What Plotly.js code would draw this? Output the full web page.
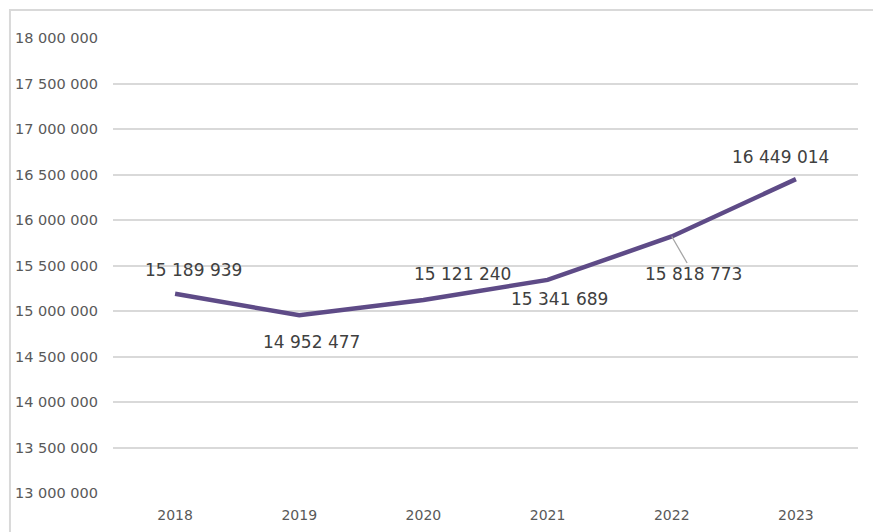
<!DOCTYPE html>
<html>
<head>
<meta charset="utf-8">
<script src="https://cdn.plot.ly/plotly-3.0.1.min.js"></script>
<style>html,body{margin:0;padding:0;background:#fff;}#chart{width:873px;height:532px;}</style>
</head>
<body>
<div id="chart"></div>
<script>
const years = ['2018', '2019', '2020', '2021', '2022', '2023'];
const values = [15189939, 14952477, 15121240, 15341689, 15818773, 16449014];
const yTicks = [13000000, 13500000, 14000000, 14500000, 15000000, 15500000, 16000000, 16500000, 17000000, 17500000, 18000000];

// label offsets in pixels (layout only)
const labelDx = [18, 12, 39, 12, 22, -15];
const labelDy = [-24, 27, -26, 19, 38, -22];

function fmt(v) {
  return String(v).replace(/\B(?=(\d{3})+(?!\d))/g, ' ');
}

const trace = {
  x: years, y: values, type: 'scatter', mode: 'lines',
  line: { color: '#5e4b87', width: 4.5 }, hoverinfo: 'skip'
};

const annotations = years.map((yr, i) => ({
  x: i, y: values[i], xref: 'x', yref: 'y',
  text: fmt(values[i]),
  showarrow: true,
  arrowhead: 0, arrowwidth: 1.3,
  arrowcolor: i === 4 ? '#a6a6a6' : 'rgba(255,255,255,0)',
  standoff: 0,
  ax: labelDx[i], ay: labelDy[i],
  font: { family: 'DejaVu Sans', size: 17, color: '#404040' }
}));

const layout = {
  width: 873, height: 532,
  margin: { l: 113, r: 15, t: 38, b: 39 },
  paper_bgcolor: '#ffffff', plot_bgcolor: '#ffffff',
  showlegend: false,
  xaxis: {
    type: 'category', range: [-0.5, 5.5],
    showgrid: false, zeroline: false, showline: false, ticks: '',
    ticklabelstandoff: 12,
    tickfont: { family: 'DejaVu Sans', size: 14, color: '#595959' }
  },
  yaxis: {
    range: [13000000, 18000000],
    tickvals: yTicks, ticktext: yTicks.map(fmt),
    showgrid: true, gridcolor: '#d9d9d9', gridwidth: 2,
    zeroline: false, showline: false, ticks: '',
    ticklabelstandoff: 14,
    tickfont: { family: 'DejaVu Sans', size: 14.5, color: '#595959' }
  },
  shapes: [{
    type: 'rect', xref: 'paper', yref: 'paper',
    x0: -0.1383, x1: 1.2, y0: -0.3, y1: 1.0615,
    line: { color: '#d9d9d9', width: 2 }, fillcolor: 'rgba(0,0,0,0)', layer: 'below'
  }],
  annotations: annotations
};

Plotly.newPlot('chart', [trace], layout, { displayModeBar: false, staticPlot: true });
</script>
</body>
</html>
